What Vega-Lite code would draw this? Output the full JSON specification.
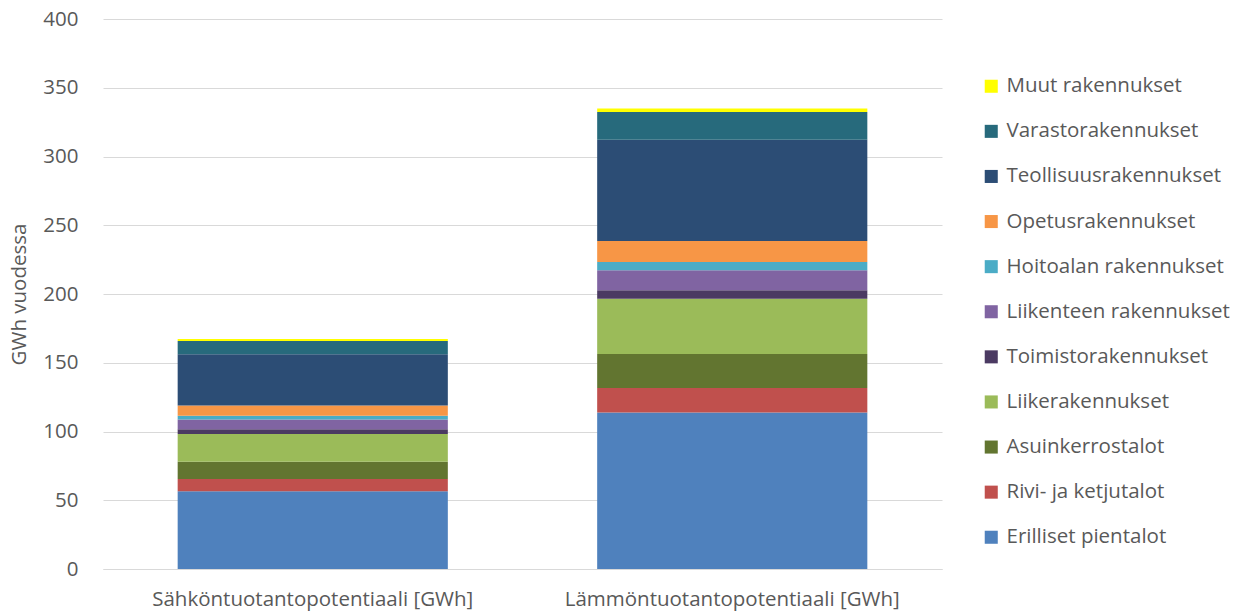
{
  "$schema": "https://vega.github.io/schema/vega-lite/v6.json",
  "width": 839,
  "height": 550,
  "autosize": "none",
  "padding": {"left": 103, "top": 19, "right": 296, "bottom": 42},
  "background": "white",
  "config": {
    "font": "Open Sans",
    "view": {"stroke": null},
    "axis": {"labelColor": "#595959", "titleColor": "#595959", "labelFontSize": 20.5, "titleFontSize": 20.5, "titleFontWeight": "normal", "labelLimit": 0}
  },
  "data": {
    "values": [
      {"kohde": "Sähköntuotantopotentiaali [GWh]", "rakennus": "Erilliset pientalot", "jarj": 1, "gwh": 56.5},
      {"kohde": "Sähköntuotantopotentiaali [GWh]", "rakennus": "Rivi- ja ketjutalot", "jarj": 2, "gwh": 9.0},
      {"kohde": "Sähköntuotantopotentiaali [GWh]", "rakennus": "Asuinkerrostalot", "jarj": 3, "gwh": 12.5},
      {"kohde": "Sähköntuotantopotentiaali [GWh]", "rakennus": "Liikerakennukset", "jarj": 4, "gwh": 20.2},
      {"kohde": "Sähköntuotantopotentiaali [GWh]", "rakennus": "Toimistorakennukset", "jarj": 5, "gwh": 3.4},
      {"kohde": "Sähköntuotantopotentiaali [GWh]", "rakennus": "Liikenteen rakennukset", "jarj": 6, "gwh": 7.2},
      {"kohde": "Sähköntuotantopotentiaali [GWh]", "rakennus": "Hoitoalan rakennukset", "jarj": 7, "gwh": 2.7},
      {"kohde": "Sähköntuotantopotentiaali [GWh]", "rakennus": "Opetusrakennukset", "jarj": 8, "gwh": 7.5},
      {"kohde": "Sähköntuotantopotentiaali [GWh]", "rakennus": "Teollisuusrakennukset", "jarj": 9, "gwh": 37.1},
      {"kohde": "Sähköntuotantopotentiaali [GWh]", "rakennus": "Varastorakennukset", "jarj": 10, "gwh": 9.7},
      {"kohde": "Sähköntuotantopotentiaali [GWh]", "rakennus": "Muut rakennukset", "jarj": 11, "gwh": 1.5},
      {"kohde": "Lämmöntuotantopotentiaali [GWh]", "rakennus": "Erilliset pientalot", "jarj": 1, "gwh": 113.9},
      {"kohde": "Lämmöntuotantopotentiaali [GWh]", "rakennus": "Rivi- ja ketjutalot", "jarj": 2, "gwh": 17.7},
      {"kohde": "Lämmöntuotantopotentiaali [GWh]", "rakennus": "Asuinkerrostalot", "jarj": 3, "gwh": 24.8},
      {"kohde": "Lämmöntuotantopotentiaali [GWh]", "rakennus": "Liikerakennukset", "jarj": 4, "gwh": 40.2},
      {"kohde": "Lämmöntuotantopotentiaali [GWh]", "rakennus": "Toimistorakennukset", "jarj": 5, "gwh": 6.1},
      {"kohde": "Lämmöntuotantopotentiaali [GWh]", "rakennus": "Liikenteen rakennukset", "jarj": 6, "gwh": 14.5},
      {"kohde": "Lämmöntuotantopotentiaali [GWh]", "rakennus": "Hoitoalan rakennukset", "jarj": 7, "gwh": 6.1},
      {"kohde": "Lämmöntuotantopotentiaali [GWh]", "rakennus": "Opetusrakennukset", "jarj": 8, "gwh": 15.2},
      {"kohde": "Lämmöntuotantopotentiaali [GWh]", "rakennus": "Teollisuusrakennukset", "jarj": 9, "gwh": 73.7},
      {"kohde": "Lämmöntuotantopotentiaali [GWh]", "rakennus": "Varastorakennukset", "jarj": 10, "gwh": 20.2},
      {"kohde": "Lämmöntuotantopotentiaali [GWh]", "rakennus": "Muut rakennukset", "jarj": 11, "gwh": 2.6}
    ]
  },
  "mark": {"type": "bar"},
  "encoding": {
    "x": {
      "field": "kohde",
      "type": "nominal",
      "sort": ["Sähköntuotantopotentiaali [GWh]", "Lämmöntuotantopotentiaali [GWh]"],
      "scale": {"paddingInner": 0.356, "paddingOuter": 0.178},
      "axis": {"title": null, "labelAngle": 0, "ticks": false, "domainColor": "#D9D9D9", "labelPadding": 20}
    },
    "y": {
      "field": "gwh",
      "type": "quantitative",
      "stack": "zero",
      "scale": {"domain": [0, 400], "nice": false},
      "axis": {
        "title": "GWh vuodessa",
        "values": [0, 50, 100, 150, 200, 250, 300, 350, 400],
        "domain": false,
        "ticks": false,
        "gridColor": "#D9D9D9",
        "labelPadding": 25,
        "titlePadding": 13
      }
    },
    "order": {"field": "jarj", "type": "quantitative", "sort": "ascending"},
    "color": {
      "field": "rakennus",
      "type": "nominal",
      "scale": {
        "domain": ["Muut rakennukset", "Varastorakennukset", "Teollisuusrakennukset", "Opetusrakennukset", "Hoitoalan rakennukset", "Liikenteen rakennukset", "Toimistorakennukset", "Liikerakennukset", "Asuinkerrostalot", "Rivi- ja ketjutalot", "Erilliset pientalot"],
        "range": ["#FFFF00", "#276A7C", "#2C4D75", "#F79646", "#4BACC6", "#8064A2", "#4B3A62", "#9BBB59", "#627530", "#C0504D", "#4F81BD"]
      },
      "legend": {
        "title": null,
        "orient": "none",
        "legendX": 878,
        "legendY": 57,
        "symbolType": "square",
        "symbolSize": 170,
        "symbolStrokeWidth": 0,
        "labelFontSize": 20.5,
        "labelColor": "#595959",
        "labelFont": "Open Sans",
        "labelLimit": 0,
        "rowPadding": 24.1,
        "labelOffset": 5
      }
    }
  }
}
